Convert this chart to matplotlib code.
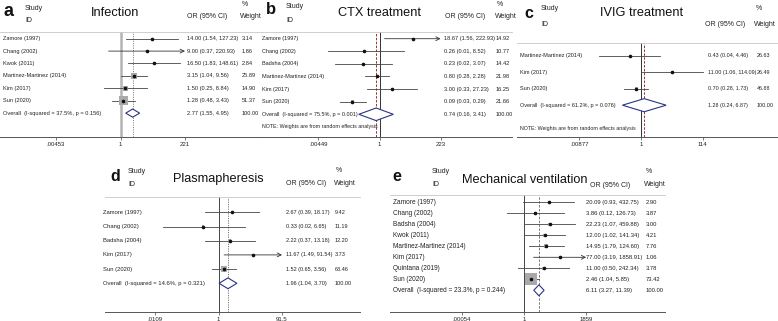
import numpy as np
import matplotlib
matplotlib.use("Agg")
import matplotlib.pyplot as plt
from matplotlib.transforms import blended_transform_factory

plt.rcParams['font.family'] = ['Liberation Sans', 'DejaVu Sans']

# ---- data -------------------------------------------------------------
a_names = ["Zamore (1997)", "Chang (2002)", "Kwok (2011)",
           "Martinez-Martinez (2014)", "Kim (2017)", "Sun (2020)"]
a_or = [14.00, 9.00, 16.50, 3.15, 1.50, 1.28]
a_lo = [1.54, 0.37, 1.83, 1.04, 0.25, 0.48]
a_hi = [127.23, 220.93, 148.61, 9.56, 8.84, 3.43]
a_wt = [3.14, 1.86, 2.84, 25.89, 14.90, 51.37]
a_arrow = [0, 1, 0, 0, 0, 0]
a_overall = [2.77, 1.55, 4.95]
a_het = ["37.5%", "0.156"]
a_ticks = [0.00453, 1, 221]
a_ticklabels = [".00453", "1", "221"]

b_names = ["Zamore (1997)", "Chang (2002)", "Badsha (2004)",
           "Martinez-Martinez (2014)", "Kim (2017)", "Sun (2020)"]
b_or = [18.67, 0.26, 0.23, 0.80, 3.00, 0.09]
b_lo = [1.56, 0.01, 0.02, 0.28, 0.33, 0.03]
b_hi = [222.93, 8.52, 3.07, 2.28, 27.23, 0.29]
b_wt = [14.92, 10.77, 14.42, 21.98, 16.25, 21.66]
b_arrow = [1, 0, 0, 0, 0, 0]
b_overall = [0.74, 0.16, 3.41]
b_het = ["75.5%", "0.001"]
b_ticks = [0.00449, 1, 223]
b_ticklabels = [".00449", "1", "223"]

c_names = ["Martinez-Martinez (2014)", "Kim (2017)", "Sun (2020)"]
c_or = [0.43, 11.00, 0.70]
c_lo = [0.04, 1.06, 0.28]
c_hi = [4.46, 114.09, 1.73]
c_wt = [26.63, 26.49, 46.88]
c_arrow = [0, 0, 0]
c_overall = [1.28, 0.24, 6.87]
c_het = ["61.2%", "0.076"]
c_ticks = [0.00877, 1, 114]
c_ticklabels = [".00877", "1", "114"]

d_names = ["Zamore (1997)", "Chang (2002)", "Badsha (2004)",
           "Kim (2017)", "Sun (2020)"]
d_or = [2.67, 0.33, 2.22, 11.67, 1.52]
d_lo = [0.39, 0.02, 0.37, 1.49, 0.65]
d_hi = [18.17, 6.65, 13.18, 91.54, 3.56]
d_wt = [9.42, 11.19, 12.20, 3.73, 63.46]
d_arrow = [0, 0, 0, 1, 0]
d_overall = [1.96, 1.04, 3.70]
d_het = ["14.6%", "0.321"]
d_ticks = [0.0109, 1, 91.5]
d_ticklabels = [".0109", "1", "91.5"]

e_names = ["Zamore (1997)", "Chang (2002)", "Badsha (2004)", "Kwok (2011)",
           "Martinez-Martinez (2014)", "Kim (2017)", "Quintana (2019)",
           "Sun (2020)"]
e_or = [20.09, 3.86, 22.23, 12.00, 14.95, 77.00, 11.00, 2.46]
e_lo = [0.93, 0.12, 1.07, 1.02, 1.79, 3.19, 0.50, 1.04]
e_hi = [432.75, 126.73, 459.88, 141.34, 124.60, 1858.91, 242.34, 5.85]
e_wt = [2.90, 3.87, 3.00, 4.21, 7.76, 1.06, 3.78, 73.42]
e_arrow = [0, 0, 0, 0, 0, 1, 0, 0]
e_overall = [6.11, 3.27, 11.39]
e_het = ["23.3%", "0.244"]
e_ticks = [0.00054, 1, 1859]
e_ticklabels = [".00054", "1", "1859"]

NOTE = "NOTE: Weights are from random effects analysis"

W, H = 778, 321
fig = plt.figure(figsize=(W / 100, H / 100), dpi=100)
TXT = '#222222'


def fx(px):
    return px / W


def fy(py):
    return 1 - py / H


def draw_panel(letter, title, names, ors, los, his, wts, arrows, overall, het,
               ticks, ticklabels, lay, style):
    left, right, sep_y, axis_y, row0, dy, x1, ppd = lay
    ax = fig.add_axes([fx(left), fy(axis_y), (right - left) / W, (axis_y - sep_y) / H])
    ax.set_xscale('log')
    ax.set_xlim(10 ** ((left - x1) / ppd), 10 ** ((right - x1) / ppd))
    ax.set_ylim((axis_y - row0) / dy, -(row0 - sep_y) / dy)
    ax.minorticks_off()
    ax.set_xticks(ticks)
    ax.set_xticklabels(ticklabels)
    ax.tick_params(axis='x', length=2, width=0.5, pad=1.5, labelsize=4.3,
                   colors='#444444', labelcolor=TXT)
    ax.set_yticks([])
    for s in ['left', 'right']:
        ax.spines[s].set_visible(False)
    ax.spines['top'].set_color('#c8c8c8')
    ax.spines['top'].set_linewidth(0.6)
    ax.spines['bottom'].set_color('#555555')
    ax.spines['bottom'].set_linewidth(0.7)
    ax.set_facecolor('none')

    # reference lines
    ax.axvline(1, color=style['null_c'], lw=style['null_lw'], zorder=1)
    ax.axvline(overall[0], color=style['ov_c'], lw=0.7, ls=style['ov_ls'], zorder=1)

    n = len(names)
    rows = np.arange(n)
    for i in range(n):
        if arrows[i]:
            ax.annotate('', xy=(ticks[2], rows[i]), xytext=(los[i], rows[i]),
                        arrowprops=dict(arrowstyle='->', lw=0.6, color='#333333',
                                        shrinkA=0, shrinkB=0, mutation_scale=7))
        else:
            ax.plot([los[i], his[i]], [rows[i], rows[i]], color='#444444', lw=0.6, zorder=2)
    ax.scatter(ors, rows, marker='s', s=np.array(wts) * style['box'],
               color='#a9a9a9', edgecolors='none', zorder=3)
    ax.plot(ors, rows, 'o', ms=1.6, color='#111111', zorder=4)

    # overall diamond
    yo = n
    h = style['dh']
    ax.fill([overall[1], overall[0], overall[2], overall[0]],
            [yo, yo - h, yo, yo + h], facecolor='white', edgecolor='#2b3585',
            lw=0.8, zorder=4)

    tr = blended_transform_factory(fig.transFigure, ax.transData)
    nx, ox, wx = style['cols']
    fn, fo = style['fs']
    for i in range(n):
        ax.text(fx(nx), rows[i], names[i], transform=tr, fontsize=fn, color=TXT,
                va='center', ha='left')
        ax.text(fx(ox), rows[i], "%.2f (%.2f, %.2f)" % (ors[i], los[i], his[i]),
                transform=tr, fontsize=fo, color=TXT, va='center', ha='left')
        ax.text(fx(wx), rows[i], "%.2f" % wts[i], transform=tr, fontsize=fo,
                color=TXT, va='center', ha='left')
    ax.text(fx(nx), yo, "Overall  (I-squared = %s, p = %s)" % (het[0], het[1]),
            transform=tr, fontsize=fn, color=TXT, va='center', ha='left')
    ax.text(fx(ox), yo, "%.2f (%.2f, %.2f)" % tuple(overall), transform=tr,
            fontsize=fo, color=TXT, va='center', ha='left')
    ax.text(fx(wx), yo, "100.00", transform=tr, fontsize=fo, color=TXT,
            va='center', ha='left')
    if style['note'] is not None:
        ax.text(fx(nx), style['note'], NOTE, transform=tr, fontsize=3.75,
                color=TXT, va='center', ha='left')

    # header
    hd = style['head']
    fig.text(fx(hd['letter'][0]), fy(hd['letter'][1]), letter, fontsize=hd['lsize'],
             fontweight='bold', ha='center', va='center', color='#111111')
    fig.text(fx(hd['study'][0]), fy(hd['study'][1]), "Study", fontsize=5.0,
             ha='left', va='center', color=TXT)
    fig.text(fx(hd['study'][0]), fy(hd['study'][2]), "ID", fontsize=5.0,
             ha='left', va='center', color=TXT)
    fig.text(fx(hd['title'][0]), fy(hd['title'][1]), title, fontsize=9.2,
             ha='center', va='center', color='#111111')
    fig.text(fx(hd['ci'][0]), fy(hd['ci'][1]), "OR (95% CI)", fontsize=5.0,
             ha='left', va='center', color=TXT)
    fig.text(fx(hd['wt'][0]), fy(hd['wt'][1]), "%", fontsize=5.0,
             ha='left', va='center', color=TXT)
    fig.text(fx(hd['wt'][0] - 2), fy(hd['wt'][2]), "Weight", fontsize=5.0,
             ha='left', va='center', color=TXT)
    return ax


# panel a
draw_panel('a', 'Infection', a_names, a_or, a_lo, a_hi, a_wt, a_arrow, a_overall,
           a_het, a_ticks, a_ticklabels,
           (0, 257, 32, 137, 38.7, 12.4, 120.5, 27.5),
           dict(null_c='#b4b4b4', null_lw=1.8, ov_c='#8a8a8a', ov_ls=(0, (1.2, 1.2)),
                box=0.85, dh=0.33, note=None, cols=(3, 187, 242), fs=(4.1, 4.1),
                head=dict(letter=(9, 12), lsize=13, study=(25, 8, 21), title=(115, 13),
                          ci=(187, 17), wt=(242, 4, 17))))

# panel b
draw_panel('b', 'CTX treatment', b_names, b_or, b_lo, b_hi, b_wt, b_arrow, b_overall,
           b_het, b_ticks, b_ticklabels,
           (257, 512, 32, 137, 38.7, 12.6, 379.5, 26.0),
           dict(null_c='#333333', null_lw=0.7, ov_c='#9a3030', ov_ls=(0, (2.5, 1.5)),
                box=0.15, dh=0.5, note=7.0, cols=(262, 444, 495.5), fs=(4.0, 4.1),
                head=dict(letter=(271, 10), lsize=12, study=(286, 7, 20), title=(379, 13),
                          ci=(445, 17), wt=(497, 4, 17))))

# panel c
draw_panel('c', 'IVIG treatment', c_names, c_or, c_lo, c_hi, c_wt, c_arrow, c_overall,
           c_het, c_ticks, c_ticklabels,
           (517, 778, 43, 137, 56, 16.4, 641, 30.0),
           dict(null_c='#333333', null_lw=0.7, ov_c='#9a3030', ov_ls=(0, (2.5, 1.5)),
                box=0.15, dh=0.4, note=4.4, cols=(520, 708, 757), fs=(4.0, 3.85),
                head=dict(letter=(529, 14), lsize=11.5, study=(541, 8, 24), title=(642, 13),
                          ci=(705, 24), wt=(756, 8, 24))))

# panel d
draw_panel('d', 'Plasmapheresis', d_names, d_or, d_lo, d_hi, d_wt, d_arrow, d_overall,
           d_het, d_ticks, d_ticklabels,
           (105, 360, 197, 312, 212.3, 14.2, 218.5, 32.4),
           dict(null_c='#444444', null_lw=0.7, ov_c='#777777', ov_ls=(0, (1.2, 1.2)),
                box=0.3, dh=0.38, note=None, cols=(103, 286, 335), fs=(4.2, 3.95),
                head=dict(letter=(115, 177), lsize=11.5, study=(128, 172, 185), title=(218, 179),
                          ci=(286, 184), wt=(336, 171, 184))))

# panel e
draw_panel('e', 'Mechanical ventilation', e_names, e_or, e_lo, e_hi, e_wt, e_arrow,
           e_overall, e_het, e_ticks, e_ticklabels,
           (390, 665, 195, 312, 202.3, 11.0, 524, 19.0),
           dict(null_c='#444444', null_lw=0.7, ov_c='#777777', ov_ls=(0, (2.5, 1.5)),
                box=1.0, dh=0.5, note=None, cols=(393, 586, 646), fs=(4.7, 4.2),
                head=dict(letter=(397, 177), lsize=11.5, study=(432, 172, 185), title=(525, 180),
                          ci=(590, 186), wt=(646, 172, 185))))

fig.savefig('out.png', dpi=100)
